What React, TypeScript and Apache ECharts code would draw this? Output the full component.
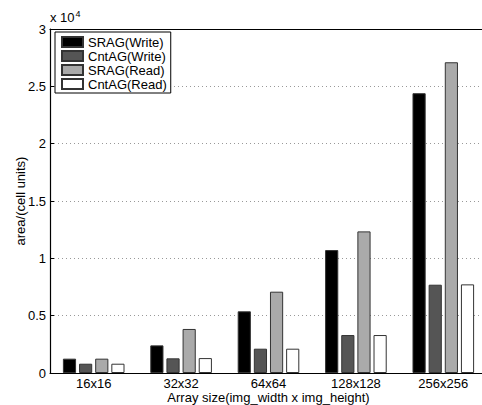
import React, { useEffect, useRef } from "react";
import * as echarts from "echarts";

const categories = ["16x16", "32x32", "64x64", "128x128", "256x256"];
const sragWrite = [1250, 2410, 5380, 10720, 24400];
const cntagWrite = [810, 1280, 2120, 3310, 7700];
const sragRead = [1250, 3840, 7090, 12350, 27100];
const cntagRead = [810, 1300, 2120, 3310, 7730];
const seriesNames = ["SRAG(Write)", "CntAG(Write)", "SRAG(Read)", "CntAG(Read)"];
const seriesColors = ["#000000", "#555555", "#aaaaaa", "#ffffff"];
const yAxisName = "area/(cell units)";
const xAxisName = "Array size(img_width x img_height)";

const FONT = "'Liberation Sans', Arial, Helvetica, sans-serif";

export default function App() {
  const ref = useRef<HTMLDivElement>(null);
  useEffect(() => {
    if (!ref.current) return;
    const chart = echarts.init(ref.current, undefined, { renderer: "svg" });
    const values = [sragWrite, cntagWrite, sragRead, cntagRead];
    chart.setOption({
      animation: false,
      backgroundColor: "#ffffff",
      textStyle: { fontFamily: FONT, color: "#000" },
      grid: {
        left: 50,
        top: 29,
        width: 437,
        height: 344,
        containLabel: false,
        outerBoundsMode: "none",
      },
      legend: {
        orient: "vertical",
        left: 55,
        top: 32,
        icon: "rect",
        itemWidth: 21,
        itemHeight: 10,
        itemGap: 0,
        itemTextGap: 7,
        padding: [3, 4, 2, 6],
        borderColor: "#000",
        borderWidth: 1,
        backgroundColor: "#fff",
        textStyle: { fontFamily: FONT, fontSize: 13, color: "#000", lineHeight: 14 },
        data: seriesNames,
      },
      graphic: [
        {
          type: "text",
          left: 50,
          top: 9,
          style: {
            text: "{a|x 10}{b|4}",
            rich: {
              a: { fontFamily: FONT, fontSize: 13, fill: "#000", verticalAlign: "bottom" },
              b: { fontFamily: FONT, fontSize: 9, fill: "#000", verticalAlign: "top", padding: [0, 0, 6, 1] },
            },
          },
        },
      ],
      xAxis: [
        {
          type: "category",
          data: categories,
          position: "bottom",
          name: xAxisName,
          nameLocation: "middle",
          nameGap: 18,
          nameMoveOverlap: false,
          nameTextStyle: { fontFamily: FONT, fontSize: 13, color: "#000" },
          axisLine: { lineStyle: { color: "#000", width: 1.2 } },
          axisTick: { inside: true, alignWithLabel: true, length: 4, lineStyle: { color: "#000" } },
          axisLabel: { fontFamily: FONT, fontSize: 13, color: "#000", margin: 4 },
          splitLine: { show: false },
        },
        {
          type: "category",
          data: categories,
          position: "top",
          axisLine: { lineStyle: { color: "#000", width: 1.2 } },
          axisTick: { inside: true, alignWithLabel: true, length: 4, lineStyle: { color: "#000" } },
          axisLabel: { show: false },
          splitLine: { show: false },
        },
      ],
      yAxis: {
        type: "value",
        min: 0,
        max: 30000,
        interval: 5000,
        name: yAxisName,
        nameLocation: "middle",
        nameGap: 23,
        nameMoveOverlap: false,
        nameTextStyle: { fontFamily: FONT, fontSize: 13, color: "#000" },
        axisLine: { show: true, lineStyle: { color: "#000", width: 1.2 } },
        axisTick: { show: true, inside: true, length: 4, lineStyle: { color: "#000" } },
        axisLabel: {
          fontFamily: FONT,
          fontSize: 13,
          color: "#000",
          margin: 4,
          formatter: (v: number) => String(v / 10000),
        },
        splitLine: { show: true, lineStyle: { color: "#999", type: [1, 3], width: 1 } },
      },
      series: seriesNames.map((name, i) => ({
        name,
        type: "bar",
        xAxisIndex: 0,
        data: values[i],
        barCategoryGap: "29.5%",
        barGap: "22.5%",
        itemStyle: {
          color: seriesColors[i],
          borderColor: "#333",
          borderWidth: 1,
        },
      })),
    });
    return () => chart.dispose();
  }, []);
  return (
    <div
      ref={ref}
      style={{ position: "fixed", left: 0, top: 0, width: 482, height: 405, background: "#fff" }}
    />
  );
}
